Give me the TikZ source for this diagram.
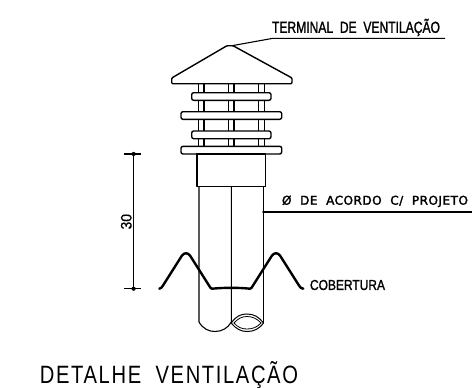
\documentclass[tikz,border=0pt]{standalone}
\usepackage{fontspec}
\setmainfont{Liberation Sans}
\newfontfamily\dejafont{DejaVu Sans}
\begin{document}
\begin{tikzpicture}[x=1pt,y=-1pt,
  thinline/.style={line width=1.1pt,black},
  partline/.style={line width=1.4pt,black,line join=round},
  roofline/.style={line width=2.4pt,black,line cap=round,line join=round},
  plate/.style={partline,rounded corners=2pt,fill=white},
  fitlabel/.style={inner sep=0pt}]
\useasboundingbox (0,0) rectangle (472,388);
\fill[white] (0,0) rectangle (472,388);
% cap
\draw[partline,rounded corners=1pt] (171.7,83.7) -- (171.7,78) -- (227,45.7) -- (233,45.7) -- (292,78) -- (292,83.7) -- cycle;
% posts
\foreach \xa/\xb in {198.3/204,228.3/234,258.3/264.3}{
  \draw[thinline] (\xa,83.7) -- (\xa,147);
  \draw[thinline] (\xb,83.7) -- (\xb,147);
}
% plates
\draw[plate] (191.7,92.7) rectangle (271,100.3);
\draw[plate] (181,111.7) rectangle (281.7,119.3);
\draw[plate] (191.7,131) rectangle (271,138.7);
\draw[plate] (181,146.3) rectangle (281.7,154);
% collar
\draw[partline] (197,154) rectangle (265.7,186.7);
% pipes
\draw[thinline] (199,186.7) -- (199,322) .. controls (203,329) and (209,331.5) .. (215,331.5) .. controls (222,331.5) and (228,328) .. (231.3,322) -- (231.3,186.7);
\draw[thinline] (263.5,186.7) -- (263.5,323);
% pipe mouth
\draw[line width=1pt] (231.3,323) .. controls (236,316) and (241,314) .. (247,314) .. controls (254,314) and (259,317) .. (263.5,323) .. controls (259,329) and (254,331.5) .. (247,331.5) .. controls (241,331.5) and (236,329) .. cycle;
\draw[line width=0.8pt] (234,323) .. controls (238,318.5) and (242,316.5) .. (247,316.5) .. controls (252,316.5) and (257,318.5) .. (261,323) .. controls (257,327.5) and (252,329) .. (247,329) .. controls (242,329) and (238,327.5) .. cycle;
% roof
\draw[roofline] (159.3,288.7) .. controls (161,288.7) and (162,287) .. (163,285.5) -- (182,255.5) .. controls (184.5,252.5) and (187.5,252.5) .. (190,255.5) -- (209,285.5) .. controls (210,287.5) and (211,288.7) .. (212,288.7) .. controls (225,287.5) and (238,287.5) .. (250,288.7) .. controls (251,288.7) and (252,287.5) .. (253,285.5) -- (272,255.5) .. controls (274.5,252.5) and (277.5,252.5) .. (280,255.5) -- (299,285.5) .. controls (300,287.5) and (301.5,288.7) .. (303.3,288.7);
% dimension
\coordinate (dimtop) at (133.6,154);
\coordinate (dimbot) at (133.6,288.7);
\draw[thinline] (dimtop) -- (dimbot);
\draw[thinline] (124.3,154) -- (141,154);
\draw[thinline] (124.3,288.7) -- (141,288.7);
\fill (dimtop) circle (2.1);
\fill (dimbot) circle (2.1);
\node[fitlabel,rotate=90] (dimtext) at (126.3,221.7) {\resizebox{15.5pt}{10.7pt}{\addfontfeature{FakeBold=0.6}30}};
% leaders
\coordinate (capapex) at (232,45.7);
\coordinate (termknee) at (273,38.3);
\coordinate (termend) at (445,38.3);
\draw[thinline] (capapex) -- (termknee) -- (termend);
\coordinate (pipedot) at (263.5,212);
\coordinate (pipeend) at (472,212);
\draw[thinline] (pipedot) -- (pipeend);
\fill (pipedot) circle (1.5);
% labels
\node[fitlabel] (termtext) at (356,27.5) {\resizebox{168pt}{14pt}{\addfontfeature{FakeBold=1.5}TERMINAL\ \ DE\ \ VENTILAÇÃO}};
\node[fitlabel] (pipetext) at (375,201.3) {\resizebox{186pt}{9.2pt}{\dejafont\addfontfeature{FakeBold=2,LetterSpace=4}Ø\ \ DE\ \ ACORDO\ \ C/\ \ PROJETO}};
\node[fitlabel] (rooftext) at (347.5,285) {\resizebox{75pt}{10pt}{\addfontfeature{FakeBold=1.5}COBERTURA}};
\node[fitlabel] (title) at (169,375.2) {\resizebox{258pt}{22pt}{\addfontfeature{LetterSpace=8}DETALHE\ \ VENTILAÇÃO}};
\end{tikzpicture}
\end{document}
